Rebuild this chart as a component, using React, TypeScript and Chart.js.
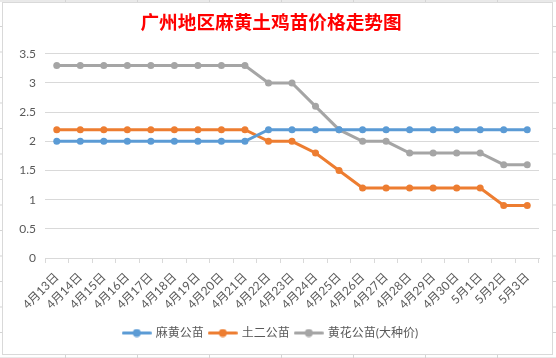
import React, { useEffect, useRef } from 'react';
import { Chart, registerables } from 'chart.js';

Chart.register(...registerables);

const categories = [
  '4月13日', '4月14日', '4月15日', '4月16日', '4月17日', '4月18日', '4月19日',
  '4月20日', '4月21日', '4月22日', '4月23日', '4月24日', '4月25日', '4月26日',
  '4月27日', '4月28日', '4月29日', '4月30日', '5月1日', '5月2日', '5月3日',
];
const mahuangValues = [2.0, 2.0, 2.0, 2.0, 2.0, 2.0, 2.0, 2.0, 2.0, 2.2, 2.2, 2.2, 2.2, 2.2, 2.2, 2.2, 2.2, 2.2, 2.2, 2.2, 2.2];
const tuerValues = [2.2, 2.2, 2.2, 2.2, 2.2, 2.2, 2.2, 2.2, 2.2, 2.0, 2.0, 1.8, 1.5, 1.2, 1.2, 1.2, 1.2, 1.2, 1.2, 0.9, 0.9];
const huanghuaValues = [3.3, 3.3, 3.3, 3.3, 3.3, 3.3, 3.3, 3.3, 3.3, 3.0, 3.0, 2.6, 2.2, 2.0, 2.0, 1.8, 1.8, 1.8, 1.8, 1.6, 1.6];
const seriesNames = ['麻黄公苗', '土二公苗', '黄花公苗(大种价)'];
const seriesColors = ['#5B9BD5', '#ED7D31', '#A5A5A5'];
const titleText = '广州地区麻黄土鸡苗价格走势图';

const FONT = "Lato, 'Noto Sans CJK SC', sans-serif";
const CJK = "'Noto Sans CJK SC', sans-serif";

function legendIcon(color: string): HTMLCanvasElement {
  const c = document.createElement('canvas');
  c.width = 30;
  c.height = 9;
  const ctx = c.getContext('2d')!;
  ctx.strokeStyle = color;
  ctx.lineWidth = 3;
  ctx.lineCap = 'round';
  ctx.beginPath();
  ctx.moveTo(1.5, 4.5);
  ctx.lineTo(28.5, 4.5);
  ctx.stroke();
  ctx.fillStyle = color;
  ctx.beginPath();
  ctx.arc(15, 4.5, 4, 0, Math.PI * 2);
  ctx.fill();
  return c;
}

export default function App() {
  const ref = useRef<HTMLCanvasElement>(null);
  useEffect(() => {
    if (!ref.current) return;
    const icons = seriesColors.map(legendIcon);
    const values = [mahuangValues, tuerValues, huanghuaValues];
    const chart = new Chart(ref.current, {
      type: 'line',
      data: {
        labels: categories,
        datasets: values.map((v, i) => ({
          label: seriesNames[i],
          data: v,
          borderColor: seriesColors[i],
          backgroundColor: seriesColors[i],
          pointBackgroundColor: seriesColors[i],
          pointBorderColor: seriesColors[i],
          borderWidth: 3,
          pointRadius: 3.5,
          pointBorderWidth: 0,
          tension: 0,
        })),
      },
      options: {
        responsive: false,
        animation: false,
        layout: { padding: { left: 0, right: 13, top: 0, bottom: 5 } },
        scales: {
          x: {
            offset: true,
            grid: { offset: true, drawOnChartArea: false, drawTicks: true, tickLength: 5, color: '#d9d9d9' },
            border: { color: '#d9d9d9' },
            ticks: {
              autoSkip: false,
              maxRotation: 45,
              minRotation: 45,
              padding: 7,
              color: '#595959',
              font: { size: 12, family: FONT },
            },
            afterFit: (s: any) => { s.height = 63; },
          },
          y: {
            min: 0,
            max: 3.5,
            ticks: {
              stepSize: 0.5,
              padding: 9,
              color: '#595959',
              font: { size: 12, family: FONT },
              callback: (v: any) => String(Number(v)),
            },
            grid: { color: '#d9d9d9', drawTicks: false },
            border: { display: false },
            afterFit: (s: any) => { s.width = 42; },
          },
        },
        plugins: {
          title: {
            display: true,
            text: titleText,
            color: '#FF0000',
            font: { size: 18.67, weight: 'bold', family: CJK },
            padding: { top: 8, bottom: 20.4 },
          },
          legend: {
            position: 'bottom',
            labels: {
              usePointStyle: true,
              pointStyleWidth: 26,
              padding: 6,
              color: '#595959',
              font: { size: 12, family: FONT },
              generateLabels: (c: any) => {
                const items = Chart.defaults.plugins.legend.labels.generateLabels(c);
                return items.map((it: any, i: number) => ({ ...it, pointStyle: icons[i] }));
              },
            },
          },
          tooltip: { enabled: false },
        },
      },
    } as any);
    return () => chart.destroy();
  }, []);

  return (
    <div
      style={{
        position: 'fixed',
        left: 0,
        top: 0,
        width: 556,
        height: 358,
        background: '#fff',
        backgroundImage:
          'linear-gradient(to right, #d4d4d4 1px, transparent 1px), linear-gradient(to bottom, #d4d4d4 1px, transparent 1px)',
        backgroundSize: '72px 25.5px',
        backgroundPosition: '65px 26px',
        overflow: 'hidden',
      }}
    >
      <div
        style={{
          position: 'absolute',
          left: 2,
          top: 2,
          width: 549,
          height: 351,
          border: '1px solid #d9d9d9',
          background: '#fff',
        }}
      >
        <canvas ref={ref} width={549} height={351} style={{ display: 'block' }} />
      </div>
    </div>
  );
}
